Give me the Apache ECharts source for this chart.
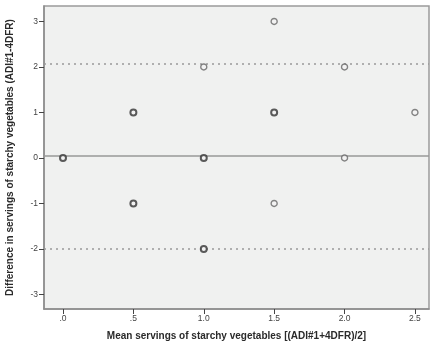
<!DOCTYPE html>
<html>
<head>
<meta charset="utf-8">
<script src="https://cdn.jsdelivr.net/npm/echarts@6/dist/echarts.min.js"></script>
<style>
html,body{margin:0;padding:0;background:#fff;}
#chart{width:430px;height:347px;}
</style>
</head>
<body>
<div id="chart"></div>
<script>
// Bland–Altman data: mean of two methods vs. their difference
const meanServings = [0, 0.5, 0.5, 1.0, 1.0, 1.0, 1.5, 1.5, 1.5, 2.0, 2.0, 2.5];
const diffServings = [0, 1, -1, 2, 0, -2, 3, 1, -1, 2, 0, 1];
// number of overlapping observations at each point
const pointCounts  = [3, 2, 2, 1, 3, 2, 1, 2, 1, 1, 1, 1];

// mean difference and limits of agreement
const meanDiff = 0.04;
const upperLimit = 2.07;
const lowerLimit = -1.99;

const xTicks = [0, 0.5, 1.0, 1.5, 2.0, 2.5];
const xTickLabels = ['.0', '.5', '1.0', '1.5', '2.0', '2.5'];
const yTicks = [-3, -2, -1, 0, 1, 2, 3];

const points = meanServings.map((m, i) => ({
  value: [m, diffServings[i]],
  itemStyle: pointCounts[i] > 1
    ? { color: '#f4f4f4', borderColor: '#333333', borderWidth: 2 }
    : { color: '#f4f4f4', borderColor: '#666666', borderWidth: 1.4 }
}));

const font = 'Liberation Sans, Arial, sans-serif';
const chart = echarts.init(document.getElementById('chart'));
chart.setOption({
  animation: false,
  backgroundColor: '#ffffff',
  grid: {
    left: 44, top: 6, right: 1, bottom: 38,
    outerBoundsMode: 'none', containLabel: false,
    show: true, backgroundColor: '#f0f1f0', borderColor: '#9a9a9a', borderWidth: 1.5
  },
  xAxis: {
    type: 'value', min: -0.135, max: 2.6,
    splitLine: { show: false },
    axisLine: { show: true, onZero: false, lineStyle: { color: '#8c8c8c', width: 1.5 } },
    axisTick: { show: true, length: 5, customValues: xTicks, lineStyle: { color: '#444' } },
    axisLabel: {
      customValues: xTicks, fontSize: 8.5, color: '#444', fontFamily: font, margin: 5,
      formatter: v => xTickLabels[xTicks.findIndex(t => Math.abs(t - v) < 1e-6)]
    },
    name: 'Mean servings of starchy vegetables [(ADI#1+4DFR)/2]',
    nameLocation: 'middle', nameGap: 22,
    nameTextStyle: { fontSize: 10, fontWeight: 'bold', color: '#2a2a2a', fontFamily: font }
  },
  yAxis: {
    type: 'value', min: -3.32, max: 3.34,
    splitLine: { show: false },
    axisLine: { show: true, onZero: false, lineStyle: { color: '#8c8c8c', width: 1.5 } },
    axisTick: { show: true, length: 5, customValues: yTicks, lineStyle: { color: '#444' } },
    axisLabel: { customValues: yTicks, fontSize: 8.5, color: '#444', fontFamily: font, margin: 6 },
    name: 'Difference in servings of starchy vegetables (ADI#1-4DFR)',
    nameLocation: 'middle', nameGap: 29,
    nameTextStyle: { fontSize: 10, fontWeight: 'bold', color: '#2a2a2a', fontFamily: font }
  },
  series: [{
    type: 'scatter',
    symbol: 'circle',
    symbolSize: 6,
    data: points,
    z: 5,
    markLine: {
      silent: true, symbol: 'none', label: { show: false },
      data: [
        { yAxis: meanDiff, lineStyle: { type: 'solid', color: '#999', width: 1.5 } },
        { yAxis: upperLimit, lineStyle: { type: [2, 4], color: '#999', width: 1.5 } },
        { yAxis: lowerLimit, lineStyle: { type: [2, 4], color: '#999', width: 1.5 } }
      ]
    }
  }]
});
</script>
</body>
</html>
